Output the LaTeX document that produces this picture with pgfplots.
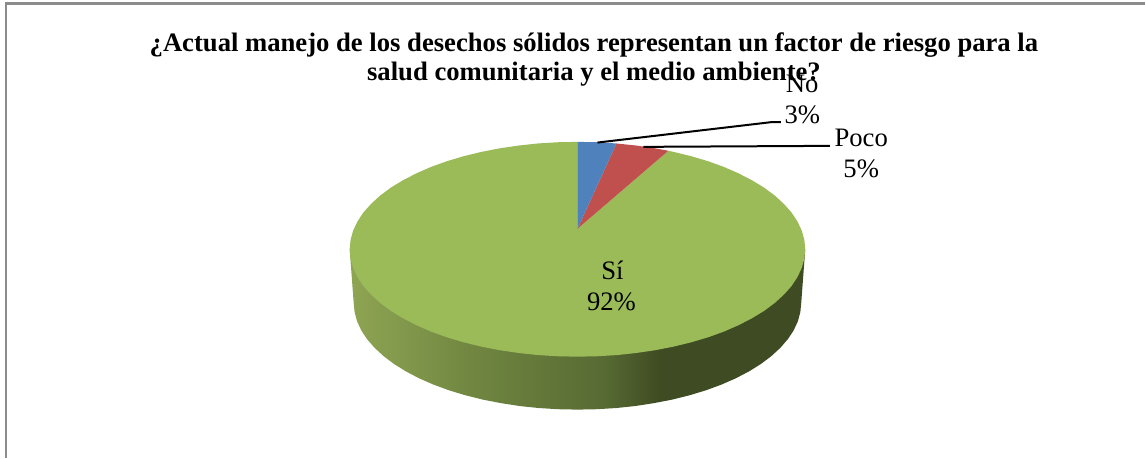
\documentclass[border=0pt]{standalone}
\usepackage{pgfplots}
\pgfplotsset{compat=1.18}
\usepackage{fontspec}
\setmainfont{Liberation Serif}
\definecolor{pieblue}{HTML}{4F81BD}
\definecolor{piered}{HTML}{C0504D}
\definecolor{piegreen}{HTML}{9BBB59}
\definecolor{frame}{HTML}{8C8C8C}
\definecolor{rima}{HTML}{8FA553}
\definecolor{rimb}{HTML}{6F8540}
\definecolor{rimc}{HTML}{576A33}
\definecolor{rimd}{HTML}{3F4B22}
% rim of the disc, stops run 25bp..75bp across its width
\pgfdeclarehorizontalshading{rim}{100bp}{
  color(0bp)=(rima); color(25bp)=(rima); color(39bp)=(rimb);
  color(53bp)=(rimc); color(59bp)=(rimd); color(75bp)=(rimd); color(100bp)=(rimd)}
\begin{document}
\begin{tikzpicture}[x=1pt,y=1pt]
\begin{axis}[
    scale only axis, width=859.5pt, height=343.5pt,
    xmin=0, xmax=1146, ymin=0, ymax=458, y dir=reverse,
    axis lines=none, clip=false]
% keeps the page at the full axis size
\addplot[draw=none] coordinates {(0,0) (1146,458)};
% frame
\addplot[frame, line width=1.6pt] coordinates {(6,458) (6,3.5) (1146,3.5)};
% rim
\addplot[draw=none, shading=rim] coordinates {
  (806,249.5) (802,303) (801.1,312.3) (798.6,321.6) (794.4,330.7) (788.5,339.6) (781,348.2)
  (772,356.5) (761.5,364.4) (749.6,371.8) (736.4,378.7) (722,385) (706.5,390.7) (690,395.7)
  (672.7,400) (654.6,403.5) (636,406.4) (616.9,408.4) (597.5,409.6) (578,410) (558.5,409.6)
  (539.1,408.4) (520,406.4) (501.4,403.5) (483.3,400) (466,395.7) (449.5,390.7) (434,385)
  (419.6,378.7) (406.4,371.8) (394.5,364.4) (384,356.5) (375,348.2) (367.5,339.6) (361.6,330.7)
  (357.4,321.6) (354.9,312.3) (354,303) (350,249.5)};
% Si 92
\addplot[draw=none, fill=piegreen] coordinates {
  (578,229) (669,150.9) (674.4,152.1) (692,156.4) (708.8,161.4) (724.6,167.1) (739.2,173.5)
  (752.6,180.4) (764.8,187.8) (775.5,195.75) (784.6,204.1) (792.3,212.7) (798.2,221.7)
  (802.5,230.8) (805.1,240.1) (806,249.5) (805.1,258.9) (802.5,268.2) (798.2,277.3) (792.3,286.3)
  (784.6,294.9) (775.5,303.25) (764.8,311.2) (752.6,318.6) (739.2,325.5) (724.6,331.9)
  (708.8,337.6) (692,342.6) (674.4,346.9) (656,350.5) (637,353.3) (617.6,355.4) (597.9,356.6)
  (578,357) (558.1,356.6) (538.4,355.4) (519,353.3) (500,350.5) (481.6,346.9) (464,342.6)
  (447.2,337.6) (431.4,331.9) (416.8,325.5) (403.4,318.6) (391.2,311.2) (380.5,303.25)
  (371.4,294.9) (363.7,286.3) (357.8,277.3) (353.5,268.2) (350.9,258.9) (350,249.5) (350.9,240.1)
  (353.5,230.8) (357.8,221.7) (363.7,212.7) (371.4,204.1) (380.5,195.75) (391.2,187.8)
  (403.4,180.4) (416.8,173.5) (431.4,167.1) (447.2,161.4) (464,156.4) (481.6,152.1) (500,148.5)
  (519,145.7) (538.4,143.6) (558.1,142.4) (578,142)};
% Poco 5
\addplot[draw=none, fill=piered] coordinates {
  (578,229) (617,143.6) (637,145.7) (656,148.5) (669,150.9)};
% No 3
\addplot[draw=none, fill=pieblue] coordinates {
  (578,229) (578,142) (597.9,142.4) (617,143.6)};
% leaders
\addplot[black, line width=1.5pt] coordinates {(598,142.7) (771.7,122.3) (781.7,122.3)};
\addplot[black, line width=1.5pt] coordinates {(644,147) (830.7,146)};
% title
\node[anchor=base, font=\fontsize{20}{24}\selectfont\bfseries] at (axis cs:594.5,52)
  {¿Actual manejo de los desechos sólidos representan un factor de riesgo para la};
\node[anchor=base, font=\fontsize{20}{24}\selectfont\bfseries] at (axis cs:594.5,81)
  {salud comunitaria y el medio ambiente?};
% labels
\node[anchor=base, font=\fontsize{20}{24}\selectfont] at (axis cs:803,93) {No};
\node[anchor=base, font=\fontsize{20}{24}\selectfont] at (axis cs:803,124) {3\%};
\node[anchor=base, font=\fontsize{20}{24}\selectfont] at (axis cs:862,147) {Poco};
\node[anchor=base, font=\fontsize{20}{24}\selectfont] at (axis cs:862,178) {5\%};
\node[anchor=base, font=\fontsize{20}{24}\selectfont] at (axis cs:613,280) {Sí};
\node[anchor=base, font=\fontsize{20}{24}\selectfont] at (axis cs:612,311) {92\%};
\end{axis}
\end{tikzpicture}
\end{document}
